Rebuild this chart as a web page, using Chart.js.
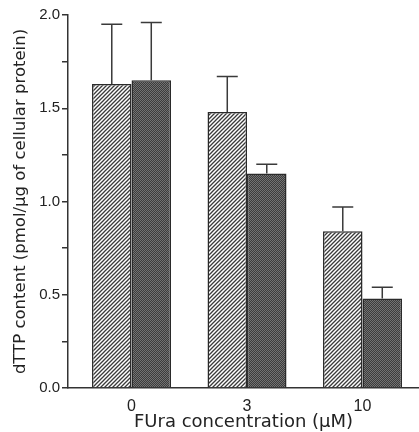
<!DOCTYPE html>
<html>
<head>
<meta charset="utf-8">
<script src="https://cdn.jsdelivr.net/npm/chart.js@4"></script>
<style>
  html, body { margin: 0; padding: 0; background: #fff; }
  #wrap { width: 419px; height: 432px; }
</style>
</head>
<body>
<div id="wrap"><canvas id="chart" width="419" height="432"></canvas></div>
<script>
// FUra concentration groups (µM)
const concentrations = ["0", "3", "10"];
const hatchedValues = [1.63, 1.48, 0.84];
const hatchedErrors = [0.32, 0.19, 0.13];
const darkValues = [1.65, 1.15, 0.48];
const darkErrors = [0.31, 0.05, 0.06];
const yTicksShown = ["0.0", "0.5", "1.0", "1.5", "2.0"];

function makeHatch() {
  const c = document.createElement("canvas");
  c.width = 4; c.height = 4;
  const g = c.getContext("2d");
  g.fillStyle = "#fff";
  g.fillRect(0, 0, 4, 4);
  g.strokeStyle = "#3a3a3a";
  g.lineWidth = 1.3;
  g.beginPath();
  g.moveTo(-1, 5); g.lineTo(5, -1);
  g.moveTo(-1, 1); g.lineTo(1, -1);
  g.moveTo(3, 5); g.lineTo(5, 3);
  g.stroke();
  return g.createPattern(c, "repeat");
}

function makeDark() {
  const c = document.createElement("canvas");
  c.width = 2; c.height = 2;
  const g = c.getContext("2d");
  g.fillStyle = "#3c3c3c";
  g.fillRect(0, 0, 2, 2);
  g.fillStyle = "#727272";
  g.fillRect(0, 0, 1, 1);
  g.fillRect(1, 1, 1, 1);
  return g.createPattern(c, "repeat");
}

const errorBars = {
  id: "errorBars",
  afterDatasetsDraw(chart) {
    const ctx = chart.ctx;
    const y = chart.scales.y;
    ctx.save();
    ctx.strokeStyle = "#3a3a3a";
    ctx.lineWidth = 1.5;
    chart.data.datasets.forEach((ds, i) => {
      const meta = chart.getDatasetMeta(i);
      meta.data.forEach((bar, j) => {
        const top = y.getPixelForValue(ds.data[j].y + ds.errors[j]);
        ctx.beginPath();
        ctx.moveTo(bar.x, bar.y);
        ctx.lineTo(bar.x, top);
        ctx.moveTo(bar.x - 10.5, top);
        ctx.lineTo(bar.x + 10.5, top);
        ctx.stroke();
      });
    });
    ctx.restore();
  }
};

const toPoints = vals => vals.map((v, i) => ({ x: i, y: v }));

new Chart(document.getElementById("chart"), {
  type: "bar",
  data: {
    datasets: [
      {
        data: toPoints(hatchedValues),
        errors: hatchedErrors,
        backgroundColor: makeHatch(),
        borderColor: "#2a2a2a",
        borderWidth: 1.5
      },
      {
        data: toPoints(darkValues),
        errors: darkErrors,
        backgroundColor: makeDark(),
        borderColor: "#2a2a2a",
        borderWidth: 1.5
      }
    ]
  },
  options: {
    responsive: false,
    animation: false,
    layout: { padding: { top: 15, right: 0, left: 0, bottom: 0 } },
    datasets: { bar: { categoryPercentage: 0.684, barPercentage: 1 } },
    plugins: { legend: { display: false }, tooltip: { enabled: false } },
    scales: {
      x: {
        type: "linear",
        offset: false,
        min: -0.55,
        max: 2.489,
        afterBuildTicks: s => { s.ticks = concentrations.map((c, i) => ({ value: i })); },
        afterFit: s => { s.height = 44; },
        ticks: {
          callback: v => concentrations[v],
          color: "#222",
          font: { family: "Liberation Sans, Arial", size: 16 },
          padding: 1,
          maxRotation: 0
        },
        grid: { display: false, offset: false },
        border: { display: true, color: "#333", width: 1.5 },
        title: {
          display: true,
          text: "FUra concentration (μM)",
          color: "#222",
          font: { family: "DejaVu Sans", size: 18, lineHeight: 1 },
          padding: { top: 0, bottom: 1 }
        }
      },
      y: {
        min: 0,
        max: 2,
        afterFit: s => { s.width = 68; },
        ticks: {
          stepSize: 0.25,
          callback: v => {
            const s = v.toFixed(1);
            return Math.abs(v * 2 - Math.round(v * 2)) < 1e-6 && yTicksShown.includes(s) ? s : "";
          },
          color: "#222",
          font: { family: "Liberation Sans, Arial", size: 15 },
          padding: 2
        },
        grid: { drawOnChartArea: false, drawTicks: true, tickLength: 6, color: "#333", lineWidth: 1.5 },
        border: { display: true, color: "#333", width: 1.5 },
        title: {
          display: true,
          text: "dTTP content (pmol/μg of cellular protein)",
          color: "#222",
          font: { family: "DejaVu Sans", size: 16.5 },
          padding: { top: 11, bottom: 0 }
        }
      }
    }
  },
  plugins: [errorBars]
});
</script>
</body>
</html>
